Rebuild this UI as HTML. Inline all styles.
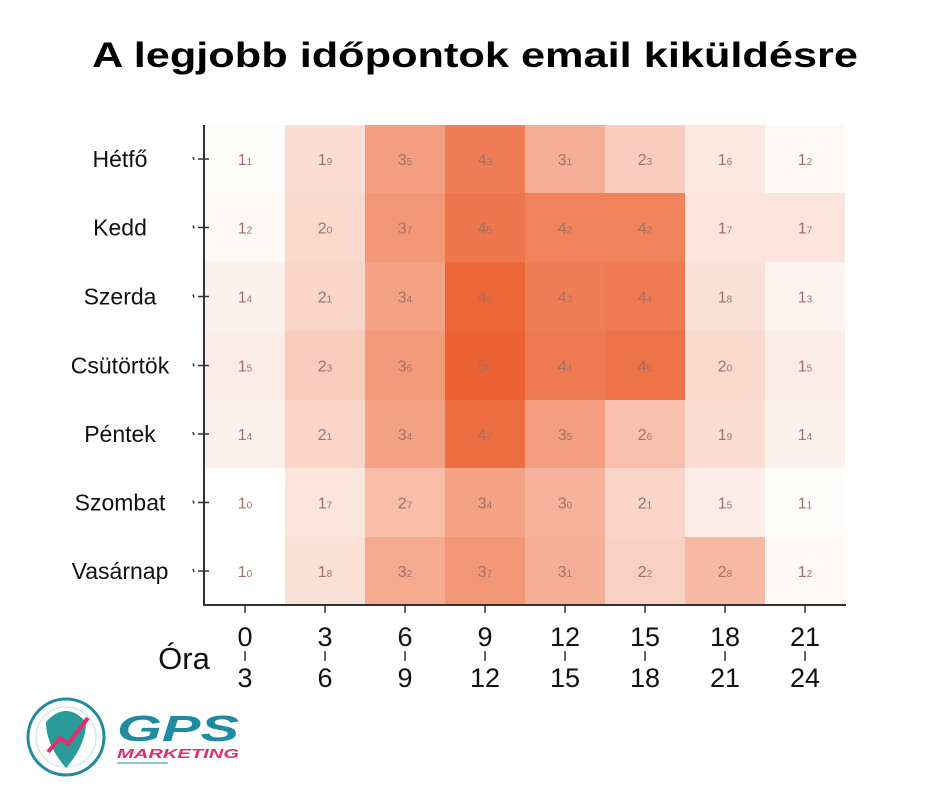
<!DOCTYPE html>
<html><head><meta charset="utf-8"><style>
body{margin:0;background:#fff;}
svg{display:block;font-family:"Liberation Sans",sans-serif;}
</style></head><body>
<svg width="940" height="788" viewBox="0 0 940 788" xmlns="http://www.w3.org/2000/svg">
<rect width="940" height="788" fill="#fff"/>
<text x="475" y="67" text-anchor="middle" font-size="35" font-weight="bold" textLength="766" lengthAdjust="spacingAndGlyphs" fill="#000">A legjobb időpontok email kiküldésre</text>
<g id="cells"></g>
<line x1="204" y1="125" x2="204" y2="605" stroke="#333" stroke-width="2"/>
<line x1="203" y1="605" x2="846" y2="605" stroke="#333" stroke-width="2"/>
<g id="ticks" stroke="#333" stroke-width="1.5"></g>
<g id="labels" font-size="23" fill="#111" text-anchor="middle"></g>
<text x="184" y="669" font-size="31" text-anchor="middle" fill="#111">Óra</text>
<!-- logo -->
<circle cx="66" cy="737" r="38" fill="none" stroke="#1f8aa0" stroke-width="3"/>
<circle cx="66" cy="737" r="30" fill="none" stroke="#bfe2e6" stroke-width="1"/>
<path d="M46 722 Q66 700 86 722 Q86 745 66 768 Q46 745 46 722Z" fill="#2a9a9a"/>
<polyline points="48,752 60,738 68,744 88,718" fill="none" stroke="#e0306a" stroke-width="4"/>
<text x="117" y="741" font-size="36" font-weight="bold" fill="#1f8aa0" font-style="italic" textLength="122" lengthAdjust="spacingAndGlyphs">GPS</text>
<text x="117" y="758" font-size="13" font-weight="bold" fill="#e0306a" font-style="italic" textLength="122" lengthAdjust="spacingAndGlyphs">MARKETING</text>
<line x1="117" y1="763" x2="168" y2="763" stroke="#1f8aa0" stroke-width="1"/>
</svg>
<script>
const data=[[1.1,1.9,3.5,4.3,3.1,2.3,1.6,1.2],[1.2,2.0,3.7,4.5,4.2,4.2,1.7,1.7],[1.4,2.1,3.4,4.9,4.3,4.4,1.8,1.3],[1.5,2.3,3.6,5.0,4.4,4.6,2.0,1.5],[1.4,2.1,3.4,4.7,3.5,2.6,1.9,1.4],[1.0,1.7,2.7,3.4,3.0,2.1,1.5,1.1],[1.0,1.8,3.2,3.7,3.1,2.2,2.8,1.2]];
const days=["Hétfő","Kedd","Szerda","Csütörtök","Péntek","Szombat","Vasárnap"];
const ns="http://www.w3.org/2000/svg";
const cells=document.getElementById("cells"),ticks=document.getElementById("ticks"),labels=document.getElementById("labels");
const rowY=[125,193,262,331,400,468,537,605];
function el(t,a,p){const e=document.createElementNS(ns,t);for(const k in a)e.setAttribute(k,a[k]);p.appendChild(e);return e;}
data.forEach((row,r)=>{
 const y0=rowY[r],y1=rowY[r+1],cy=(y0+y1)/2;
 row.forEach((v,c)=>{
  const t=Math.max(0,(v-1.05)/3.95);
  const R=Math.round(255-t*19),G=Math.round(255-t*157),B=Math.round(255-t*205);
  el("rect",{x:205+c*80,y:y0,width:80,height:y1-y0,fill:`rgb(${R},${G},${B})`},cells);
  const s=v.toFixed(1).split(".");
  const tx=el("text",{x:245+c*80,y:cy+6,"text-anchor":"middle",fill:"#a07068","font-size":"16"},cells);
  tx.textContent=s[0];
  const sp=el("tspan",{"font-size":"10"},tx);sp.textContent=s[1];
 });
 el("line",{x1:198,y1:cy,x2:209,y2:cy},ticks);
 el("line",{x1:193,y1:cy-2,x2:194,y2:cy+1},ticks);
 const l=el("text",{x:120,y:cy+8},labels);l.textContent=days[r];
});
for(let c=0;c<8;c++){
 const x=245+c*80;
 el("line",{x1:x,y1:605,x2:x,y2:613},ticks);
 el("line",{x1:x,y1:651,x2:x,y2:661},ticks);
 const a=el("text",{x:x,y:646,"font-size":"27"},labels);a.textContent=c*3;
 const b=el("text",{x:x,y:687,"font-size":"27"},labels);b.textContent=c*3+3;
}
</script>
</body></html>
